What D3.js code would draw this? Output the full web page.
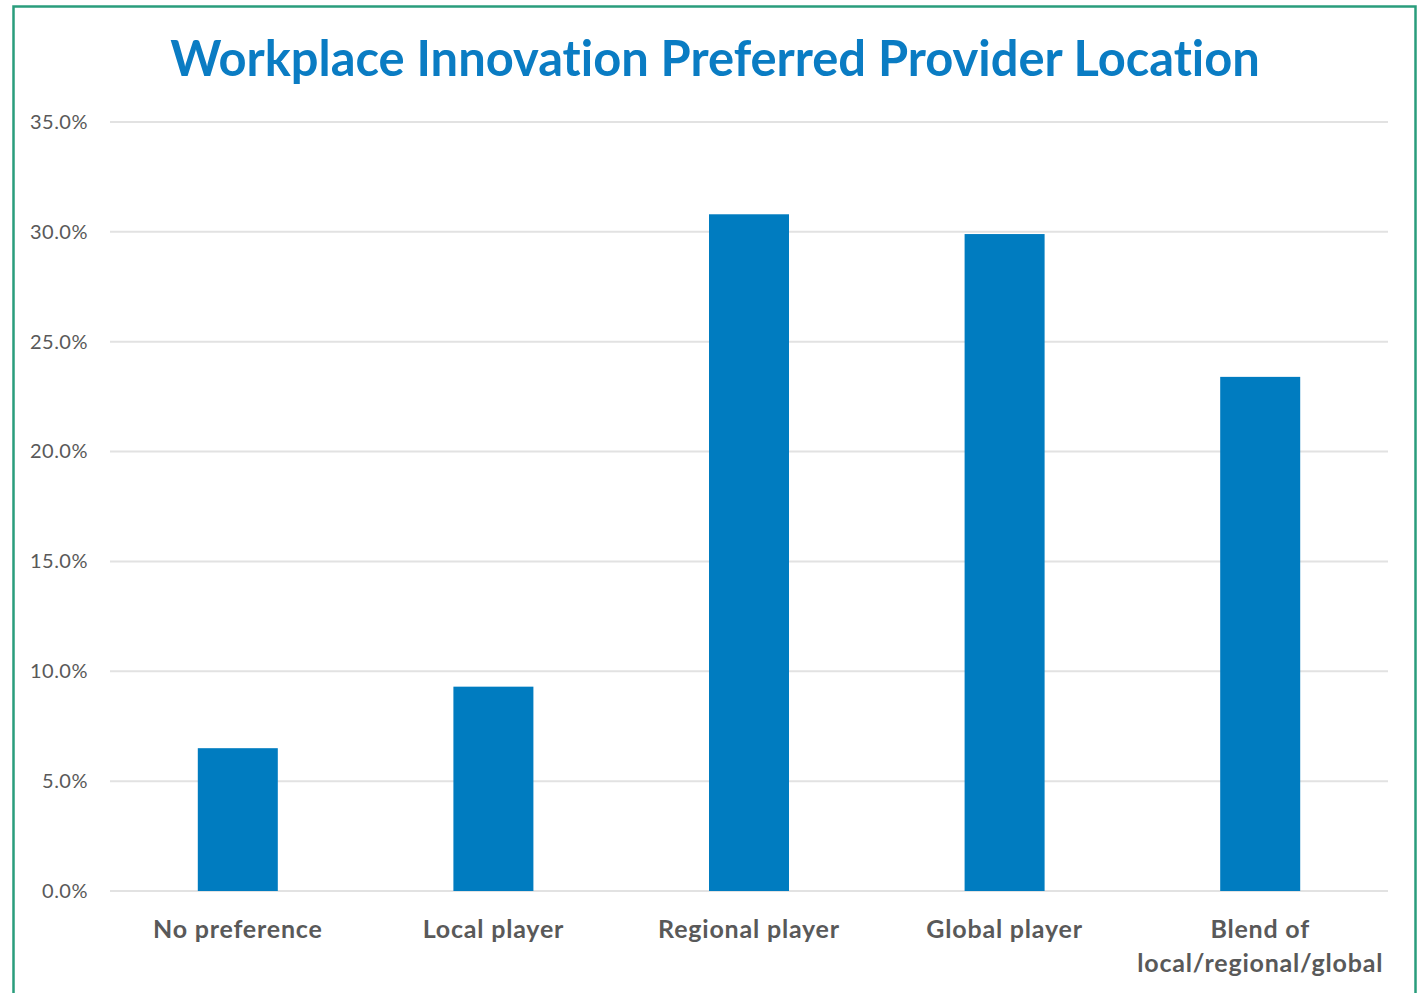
<!DOCTYPE html>
<html>
<head>
<meta charset="utf-8">
<script src="https://cdn.jsdelivr.net/npm/d3@7"></script>
<style>
  body { margin: 0; background: #fff; }
  svg { display: block; }
</style>
</head>
<body>
<div id="chart"></div>
<script>
const categories = ["No preference", "Local player", "Regional player", "Global player", "Blend of\nlocal/regional/global"]
const values = [6.5, 9.3, 30.8, 29.9, 23.4]
const yTicks = [0, 5, 10, 15, 20, 25, 30, 35]
const title = "Workplace Innovation Preferred Provider Location"

const width = 1420, height = 993
const margin = {top: 122, right: 32, bottom: 102, left: 110}
const noLig = "\"liga\" 0, \"clig\" 0, \"dlig\" 0"

const svg = d3.select("#chart").append("svg")
  .attr("width", width)
  .attr("height", height)

// frame
svg.append("rect")
  .attr("x", 13.5).attr("y", 6.5)
  .attr("width", 1402).attr("height", 1000)
  .attr("fill", "none")
  .attr("stroke", "#2a9d7c")
  .attr("stroke-width", 2.5)

const x = d3.scaleBand()
  .domain(categories)
  .range([margin.left, width - margin.right])
  .paddingInner(0.687)
  .paddingOuter(0.3435)

const y = d3.scaleLinear()
  .domain([0, 35])
  .range([height - margin.bottom, margin.top])

// gridlines
svg.append("g")
  .selectAll("line")
  .data(yTicks)
  .enter().append("line")
  .attr("x1", margin.left)
  .attr("x2", width - margin.right)
  .attr("y1", d => y(d))
  .attr("y2", d => y(d))
  .attr("stroke", "#e2e2e2")
  .attr("stroke-width", 2)

// y labels
const yAxis = d3.axisLeft(y)
  .tickValues(yTicks)
  .tickFormat(d => d.toFixed(1) + "%")
  .tickSize(0)
  .tickPadding(22)

svg.append("g")
  .attr("transform", `translate(${margin.left},0)`)
  .call(yAxis)
  .call(g => g.select(".domain").remove())
  .selectAll("text")
  .attr("fill", "#595959")
  .style("font", "20px Lato, sans-serif")
  .style("letter-spacing", "0.5px")

// bars
svg.append("g")
  .selectAll("rect")
  .data(values)
  .enter().append("rect")
  .attr("x", (d, i) => x(categories[i]))
  .attr("width", x.bandwidth())
  .attr("y", d => y(d))
  .attr("height", d => y(0) - y(d))
  .attr("fill", "#007cc0")

// category labels
const xl = svg.append("g")
  .selectAll("text")
  .data(categories)
  .enter().append("text")
  .attr("x", d => x(d) + x.bandwidth() / 2)
  .attr("y", 938)
  .attr("text-anchor", "middle")
  .attr("fill", "#595959")
  .style("font", "bold 25px Lato, sans-serif")
  .style("letter-spacing", "0.8px")

xl.selectAll("tspan")
  .data(d => d.split("\n"))
  .enter().append("tspan")
  .attr("x", function() { return this.parentNode.getAttribute("x") })
  .attr("dy", (d, i) => i ? 34 : 0)
  .text(d => d)

// title
const t = svg.append("text")
  .attr("x", 715)
  .attr("y", 76)
  .attr("text-anchor", "middle")
  .attr("fill", "#0a7cc3")
  .style("font", "bold 44px Lato, sans-serif")
  .style("font-variant-ligatures", "none")
  .style("font-feature-settings", noLig)
  .text(title)
const tw = t.node().getComputedTextLength()
t.style("font-size", (44 * 1090 / tw) + "px")
</script>
</body>
</html>
